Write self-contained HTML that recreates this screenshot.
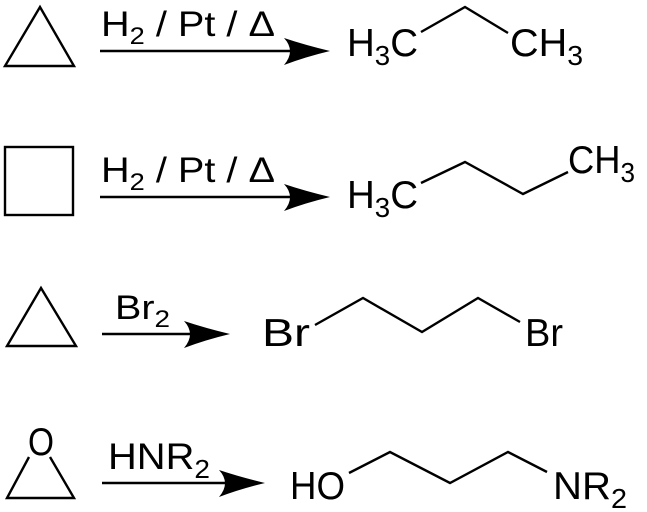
<!DOCTYPE html>
<html><head><meta charset="utf-8"><style>html,body{margin:0;padding:0;background:#fff;overflow:hidden}svg{display:block}</style></head><body>
<svg width="647" height="512" viewBox="0 0 647 512" xmlns="http://www.w3.org/2000/svg" font-family="Liberation Sans, Arial, sans-serif" fill="#000">
<g fill="none" stroke="#000" stroke-width="2.4" stroke-linejoin="miter">
<polygon points="5,66 74,66 40,7"/>
<rect x="5" y="147" width="68" height="68"/>
<polygon points="7,346 76,346 41,288"/>
<polyline points="29,457 7,498 74,498 50,457"/>
<polyline points="421,32 465,7 508,33"/>
<polyline points="421,183 465,162 523,194 568,172"/>
<polyline points="315,325 363,298 422,332 478,298 520,322"/>
<polyline points="349,473 390,452 450,483 508,452 547,472"/>
<line x1="100" y1="51" x2="300" y2="51"/>
<line x1="100" y1="197" x2="300" y2="197"/>
<line x1="102" y1="334" x2="200" y2="334"/>
<line x1="102" y1="483" x2="235" y2="483"/>
</g>
<path d="M330,51 Q305,45 284,38 Q296,51 284,65 Q305,57 330,51Z"/>
<path d="M330,197 Q305,191 284,184 Q296,197 284,211 Q305,203 330,197Z"/>
<path d="M230,334 Q205,328 184,321 Q196,334 184,348 Q205,340 230,334Z"/>
<path d="M265,483 Q240,477 219,470 Q231,483 219,497 Q240,489 265,483Z"/>
<text x="101" y="36" font-size="35" textLength="174" lengthAdjust="spacingAndGlyphs">H<tspan font-size="24" dy="8">2</tspan><tspan dy="-8"> / Pt / Δ</tspan></text>
<text x="101" y="182" font-size="35" textLength="174" lengthAdjust="spacingAndGlyphs">H<tspan font-size="24" dy="8">2</tspan><tspan dy="-8"> / Pt / Δ</tspan></text>
<text x="115" y="319" font-size="34" textLength="55" lengthAdjust="spacingAndGlyphs">Br<tspan font-size="24" dy="8">2</tspan></text>
<text x="108" y="469" font-size="37" textLength="102" lengthAdjust="spacingAndGlyphs">HNR<tspan font-size="26" dy="9">2</tspan></text>
<g font-size="39">
<text x="347" y="56" textLength="71" lengthAdjust="spacingAndGlyphs">H<tspan font-size="28" dy="9">3</tspan><tspan dy="-9">C</tspan></text>
<text x="510" y="56" textLength="73" lengthAdjust="spacingAndGlyphs">CH<tspan font-size="28" dy="9">3</tspan></text>
<text x="347" y="208" textLength="71" lengthAdjust="spacingAndGlyphs">H<tspan font-size="28" dy="9">3</tspan><tspan dy="-9">C</tspan></text>
<text x="568" y="173" textLength="67" lengthAdjust="spacingAndGlyphs">CH<tspan font-size="28" dy="9">3</tspan></text>
<text x="262" y="346" textLength="48" lengthAdjust="spacingAndGlyphs">Br</text>
<text x="525" y="346" textLength="38" lengthAdjust="spacingAndGlyphs">Br</text>
<text x="290" y="499" textLength="55" lengthAdjust="spacingAndGlyphs">HO</text>
<text x="553" y="499" textLength="74" lengthAdjust="spacingAndGlyphs">NR<tspan font-size="28" dy="9">2</tspan></text>
<text x="28" y="455" textLength="26" lengthAdjust="spacingAndGlyphs">O</text>
</g>
</svg>
</body></html>
